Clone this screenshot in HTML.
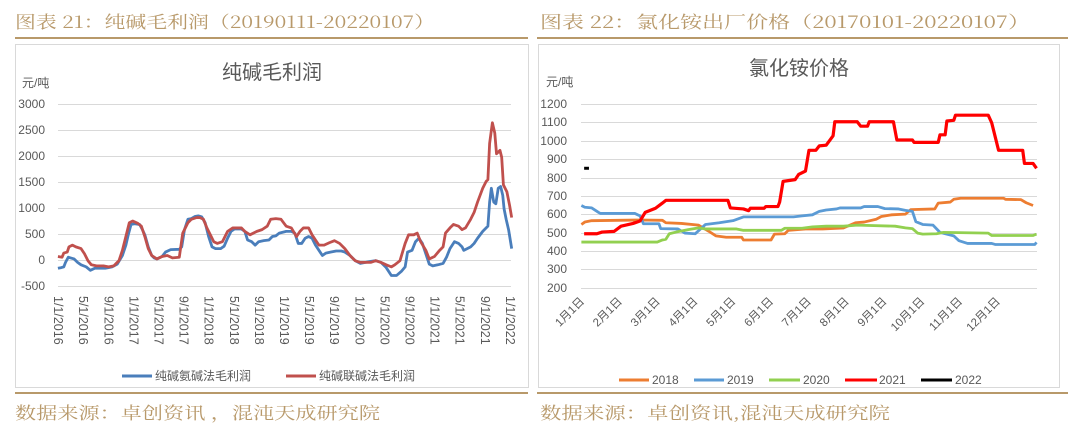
<!DOCTYPE html>
<html><head><meta charset="utf-8"><style>
body{margin:0;width:1080px;height:427px;background:#fff;overflow:hidden;font-family:"Liberation Sans","Noto Sans CJK SC",sans-serif}
svg{position:absolute;left:0;top:0}
</style></head><body>
<svg width="1080" height="427" viewBox="0 0 1080 427" font-family="Liberation Sans, Noto Sans CJK SC, sans-serif">
<g fill="#b8996a" font-size="17" font-family="Noto Serif CJK SC, Noto Sans CJK SC, serif">
<text x="15" y="28" textLength="420" lengthAdjust="spacingAndGlyphs">图表 21：纯碱毛利润（20190111-20220107）</text>
<text x="540" y="28" textLength="490" lengthAdjust="spacingAndGlyphs">图表 22：氯化铵出厂价格（20170101-20220107）</text>
<text x="15" y="419" textLength="365" lengthAdjust="spacingAndGlyphs">数据来源：卓创资讯 ，混沌天成研究院</text>
<text x="540" y="419" textLength="350" lengthAdjust="spacingAndGlyphs">数据来源：卓创资讯,混沌天成研究院</text>
</g>
<rect x="15" y="37" width="513" height="2" fill="#b8996a"/>
<rect x="537" y="37" width="531" height="2" fill="#b8996a"/>
<rect x="15" y="392" width="513" height="2" fill="#b8996a"/>
<rect x="537" y="392" width="531" height="2" fill="#b8996a"/>
<rect x="15.5" y="44.5" width="513" height="343" fill="#fff" stroke="#d9d9d9"/>
<rect x="538.5" y="44.5" width="521" height="343" fill="#fff" stroke="#d9d9d9"/>

<!-- left chart -->
<g stroke="#d9d9d9" stroke-width="1">
<line x1="58" x2="511" y1="104.5" y2="104.5"/><line x1="58" x2="511" y1="130.5" y2="130.5"/><line x1="58" x2="511" y1="156.5" y2="156.5"/><line x1="58" x2="511" y1="182.5" y2="182.5"/><line x1="58" x2="511" y1="208.5" y2="208.5"/><line x1="58" x2="511" y1="234.5" y2="234.5"/><line x1="58" x2="511" y1="260.5" y2="260.5"/><line x1="58" x2="511" y1="286.5" y2="286.5"/>
</g>
<g fill="#595959" font-size="12" text-anchor="end">
<text x="45" y="108">3000</text><text x="45" y="134">2500</text><text x="45" y="160">2000</text><text x="45" y="186">1500</text><text x="45" y="212">1000</text><text x="45" y="238">500</text><text x="45" y="264">0</text><text x="45" y="290">-500</text>
</g>
<text x="22" y="87" fill="#595959" font-size="12">元/吨</text>
<text x="272" y="79" fill="#595959" font-size="20" text-anchor="middle">纯碱毛利润</text>
<g fill="#595959" font-size="12.5" id="lx"></g>
<g transform="translate(0,40) scale(0.3448)" fill="none" stroke-width="2.8" stroke-linejoin="round">
<polyline vector-effect="non-scaling-stroke" stroke="#4a7ebb" points="168,662 178,660 185,658 190,645 198,630 205,632 215,635 225,645 235,652 250,658 262,668 275,662 290,662 305,662 315,660 325,658 340,650 355,625 365,595 372,565 380,535 390,533 405,535 412,548 420,565 430,600 440,625 447,632 455,635 470,628 480,615 495,608 520,607 527,600 535,550 545,520 555,518 565,512 575,510 585,513 595,530 605,570 615,600 625,605 640,605 650,598 660,575 670,555 680,548 700,548 710,555 718,580 730,585 740,595 750,585 765,582 780,580 790,570 800,568 810,560 830,555 845,555 855,560 865,590 875,590 885,575 895,570 905,575 915,595 925,610 935,625 945,618 960,615 975,612 990,612 1000,615 1015,625 1030,640 1045,648 1060,645 1075,642 1090,640 1105,645 1120,660 1135,683 1150,683 1165,670 1175,658 1182,615 1195,610 1205,585 1215,575 1225,590 1235,620 1245,650 1255,655 1270,652 1285,648 1295,630 1305,605 1318,585 1330,590 1340,600 1345,610 1355,605 1365,600 1375,590 1385,575 1400,555 1410,545 1415,540 1420,470 1425,430 1432,470 1438,475 1445,430 1452,425 1458,450 1462,490 1468,520 1475,550 1484,605"/>
<polyline vector-effect="non-scaling-stroke" stroke="#c0504d" points="168,628 180,630 185,618 195,615 200,600 210,595 220,600 235,605 245,620 255,640 265,652 280,655 300,655 315,658 330,655 345,640 355,610 365,570 375,530 385,525 400,532 410,540 420,570 430,605 440,625 455,635 470,628 485,625 500,632 520,630 530,560 545,530 555,520 570,515 580,515 590,520 600,545 610,565 620,585 630,590 645,585 660,555 675,545 690,545 700,545 710,555 725,565 745,555 760,550 775,540 785,520 800,518 815,520 830,540 845,545 860,570 870,555 880,545 895,545 905,565 915,580 925,595 940,595 955,588 970,582 985,590 1000,605 1015,625 1030,640 1045,645 1075,645 1090,640 1105,645 1120,652 1135,658 1145,652 1160,640 1175,590 1185,565 1200,565 1210,560 1220,585 1235,610 1245,635 1260,628 1275,610 1285,600 1292,560 1305,545 1315,535 1330,540 1340,550 1350,545 1365,520 1375,500 1385,470 1400,430 1410,410 1415,405 1420,300 1428,240 1435,270 1440,330 1450,320 1455,340 1460,420 1470,440 1478,480 1484,515"/>
</g>
<line x1="122" x2="152" y1="376" y2="376" stroke="#4a7ebb" stroke-width="3"/>
<text x="155" y="380" fill="#595959" font-size="12">纯碱氨碱法毛利润</text>
<line x1="286" x2="316" y1="376" y2="376" stroke="#c0504d" stroke-width="3"/>
<text x="319" y="380" fill="#595959" font-size="12">纯碱联碱法毛利润</text>

<!-- right chart -->
<g stroke="#d9d9d9" stroke-width="1">
<line x1="581" x2="1037" y1="104.5" y2="104.5"/><line x1="581" x2="1037" y1="122.5" y2="122.5"/><line x1="581" x2="1037" y1="141.5" y2="141.5"/><line x1="581" x2="1037" y1="159.5" y2="159.5"/><line x1="581" x2="1037" y1="178.5" y2="178.5"/><line x1="581" x2="1037" y1="196.5" y2="196.5"/><line x1="581" x2="1037" y1="214.5" y2="214.5"/><line x1="581" x2="1037" y1="233.5" y2="233.5"/><line x1="581" x2="1037" y1="251.5" y2="251.5"/><line x1="581" x2="1037" y1="269.5" y2="269.5"/><line x1="581" x2="1037" y1="288.5" y2="288.5"/>
</g>
<g fill="#595959" font-size="12" text-anchor="end">
<text x="567" y="108">1200</text><text x="567" y="126">1100</text><text x="567" y="145">1000</text><text x="567" y="163">900</text><text x="567" y="182">800</text><text x="567" y="200">700</text><text x="567" y="218">600</text><text x="567" y="237">500</text><text x="567" y="255">400</text><text x="567" y="273">300</text><text x="567" y="292">200</text>
</g>
<text x="546" y="86" fill="#595959" font-size="12">元/吨</text>
<text x="799" y="75" fill="#595959" font-size="20" text-anchor="middle">氯化铵价格</text>
<g fill="#595959" font-size="11.5" id="rx"></g>
<g transform="translate(540,40) scale(0.3448)" fill="none" stroke-width="2.8" stroke-linejoin="round">
<polyline vector-effect="non-scaling-stroke" stroke="#ed7d31" points="120,535 130,528 150,524 290,522 355,523 365,530 410,532 460,537 490,555 510,568 540,572 585,572 590,580 670,580 680,563 710,562 720,552 770,548 820,548 880,545 915,530 940,528 975,520 990,512 1020,507 1060,505 1075,492 1145,490 1155,473 1190,470 1200,462 1220,459 1345,459 1350,462 1395,463 1410,472 1430,480"/>
<polyline vector-effect="non-scaling-stroke" stroke="#5b9bd5" points="120,480 130,485 150,487 170,500 175,503 275,503 290,510 300,533 345,533 350,547 400,548 420,560 450,562 480,535 520,530 560,524 590,513 735,513 760,510 790,507 810,497 830,493 860,490 870,487 930,487 940,483 980,483 1000,489 1040,490 1060,494 1080,497 1090,527 1110,535 1140,537 1160,558 1200,568 1215,582 1240,590 1310,590 1320,593 1435,593 1440,587"/>
<polyline vector-effect="non-scaling-stroke" stroke="#92d050" points="120,586 340,586 355,580 365,578 375,562 395,557 430,550 460,545 480,548 570,548 590,552 700,552 710,546 760,546 790,542 830,540 880,540 920,537 1030,540 1060,545 1080,547 1095,560 1110,563 1150,562 1170,558 1300,560 1310,567 1430,567 1440,563"/>
<polyline vector-effect="non-scaling-stroke" stroke="#ff0000" stroke-width="3.2" points="128,562 165,562 180,557 215,555 235,540 270,532 290,525 305,500 335,488 355,473 365,465 545,465 552,487 590,490 605,495 610,488 650,488 655,483 690,483 695,470 705,410 740,405 750,390 770,380 780,320 800,320 810,307 830,305 850,278 855,237 920,237 930,250 950,250 955,237 1025,237 1035,290 1080,290 1085,297 1155,297 1160,275 1175,275 1180,235 1200,233 1205,218 1300,218 1310,240 1330,320 1400,320 1405,358 1430,358 1440,372"/>
<polyline vector-effect="non-scaling-stroke" stroke="#000" stroke-width="3" points="128,372 142,372"/>
</g>
<g stroke-width="3">
<line x1="619" x2="649" y1="380" y2="380" stroke="#ed7d31"/>
<line x1="694" x2="724" y1="380" y2="380" stroke="#5b9bd5"/>
<line x1="769" x2="800" y1="380" y2="380" stroke="#92d050"/>
<line x1="845" x2="877" y1="380" y2="380" stroke="#ff0000"/>
<line x1="921" x2="952" y1="380" y2="380" stroke="#000"/>
</g>
<g fill="#595959" font-size="12">
<text x="652" y="384">2018</text><text x="727" y="384">2019</text><text x="803" y="384">2020</text><text x="879" y="384">2021</text><text x="955" y="384">2022</text>
</g>
</svg>
<script>
var ns="http://www.w3.org/2000/svg";
var lx=document.getElementById("lx");
var m=["1","5","9"];
for(var i=0;i<19;i++){var y=2016+Math.floor(i/3);var s=m[i%3]+"/1/"+y;var x=58.6+i*25.1-4.5;
var t=document.createElementNS(ns,"text");t.setAttribute("transform","translate("+x+",296) rotate(90)");t.textContent=s;lx.appendChild(t);}
var rx=document.getElementById("rx");
for(var j=0;j<12;j++){var x2=585+j*37.8;var t2=document.createElementNS(ns,"text");t2.setAttribute("text-anchor","end");
t2.setAttribute("transform","translate("+x2+",302) rotate(-45)");t2.textContent=(j+1)+"月1日";rx.appendChild(t2);}
</script>
</body></html>
